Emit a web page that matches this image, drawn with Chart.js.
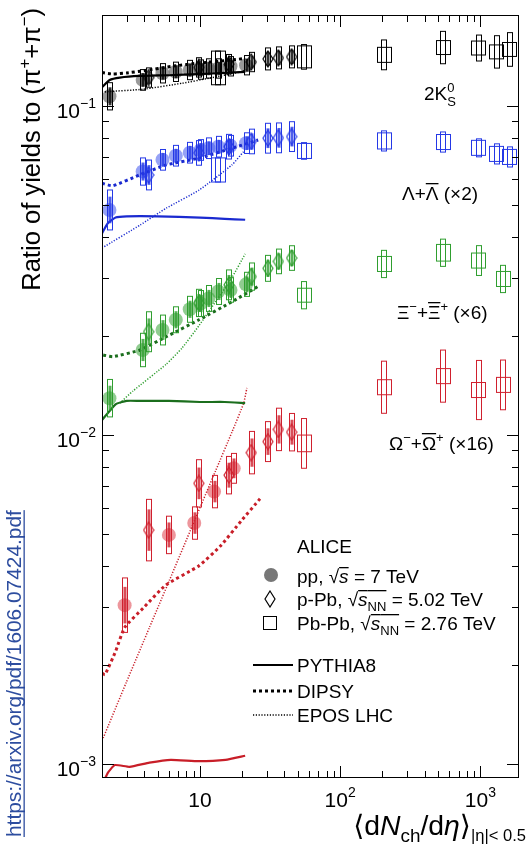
<!DOCTYPE html>
<html>
<head>
<meta charset="utf-8">
<script src="https://cdn.jsdelivr.net/npm/chart.js@4.4.0/dist/chart.umd.min.js"></script>
<style>
  body { margin: 0; background: #fff; }
  canvas { display: block; }
</style>
</head>
<body>
<canvas id="c" width="528" height="848"></canvas>
<script>
// axis ranges
const xMin = 2.0, xMax = 1886;
const yMin = 0.000907, yMax = 0.189;
const xTickValues = [10, 100, 1000];
const xTickExp = ['', '2', '3'];
const yTickValues = [0.1, 0.01, 0.001];
const yTickExp = ['\u22121', '\u22122', '\u22123'];

// <dNch/deta> of the event classes
const multPP = [2.26, 3.9, 5.4, 6.72, 8.45, 10.1, 11.5, 13.5, 16.5, 21.3];
const multPPOmega = [2.9, 6.0, 9.1, 12.6, 17.4];
const multPPb = [4.3, 9.8, 16.1, 23.2, 30.5, 36.2, 45];
const multPbPb = [13.4, 55, 205, 537, 966, 1294, 1601];
const multPbPbMS = [55, 205, 537, 966, 1448];

// 2K0S / (pi+ + pi-)
const k0sPP = [0.107, 0.120, 0.1257, 0.127, 0.1286, 0.129, 0.130, 0.130, 0.132, 0.133];
const k0sPPSys = [0.10, 0.075, 0.07, 0.07, 0.07, 0.07, 0.07, 0.07, 0.07, 0.07];
const k0sPPb = [0.122, 0.131, 0.134, 0.136, 0.139, 0.140, 0.141];
const k0sPPbSys = [0.07, 0.07, 0.07, 0.07, 0.08, 0.08, 0.08];
const k0sPbPb = [0.1305, 0.141, 0.143, 0.1505, 0.150, 0.146, 0.1485];
const k0sPbPbSys = [0.125, 0.09, 0.11, 0.12, 0.095, 0.12, 0.125];
const k0sPbPbUnc = [0.125, 0.08, 0.054, 0.05, 0.05, 0.05, 0.05];

// Lambda (x2)
const lamPP = [0.0483, 0.0632, 0.0686, 0.0706, 0.0721, 0.0735, 0.0744, 0.0752, 0.0757, 0.0771];
const lamPPSys = [0.15, 0.10, 0.075, 0.075, 0.075, 0.075, 0.075, 0.075, 0.075, 0.075];
const lamPPb = [0.0617, 0.072, 0.0752, 0.078, 0.0798, 0.080, 0.0807];
const lamPPbSys = [0.11, 0.09, 0.09, 0.09, 0.11, 0.11, 0.11];
const lamPbPb = [0.0639, 0.0730, 0.0783, 0.0777, 0.0746, 0.0715, 0.070];
const lamPbPbSys = [0.088, 0.06, 0.073, 0.073, 0.065, 0.073, 0.073];
const lamPbPbUnc = [0.088, 0.054, 0.058, 0.054, 0.054, 0.054, 0.054];

// Xi (x6)
const xiPP = [0.01294, 0.01813, 0.02085, 0.0224, 0.0241, 0.0251, 0.0260, 0.0273, 0.0276, 0.0287];
const xiPPSys = [0.14, 0.124, 0.11, 0.095, 0.095, 0.095, 0.095, 0.095, 0.09, 0.088];
const xiPPb = [0.0206, 0.0252, 0.0286, 0.0303, 0.0321, 0.0337, 0.0345];
const xiPPbSys = [0.15, 0.10, 0.11, 0.10, 0.095, 0.09, 0.09];
const xiPbPb = [0.0266, 0.0331, 0.0358, 0.0339, 0.0298];
const xiPbPbSys = [0.10, 0.10, 0.10, 0.11, 0.10];
const xiPbPbUnc = [0.05, 0.054, 0.06, 0.054, 0.054];

// Omega (x16)
const omPP = [0.00304, 0.00497, 0.0054, 0.00673, 0.00792];
const omPPSys = [0.21, 0.14, 0.12, 0.12, 0.11];
const omPPb = [0.00514, 0.00713, 0.00755, 0.00884, 0.00955, 0.0104, 0.0102];
const omPPbSys = [0.24, 0.18, 0.14, 0.16, 0.15, 0.16, 0.14];
const omPbPb = [0.00943, 0.01397, 0.0151, 0.0137, 0.0142];
const omPbPbSys = [0.19, 0.20, 0.20, 0.23, 0.19];
const omPbPbUnc = [0.06, 0.054, 0.054, 0.054, 0.054];

// model curves
const pythiaK0X = [2.0, 2.27, 2.68, 3.7, 6, 9.8, 15, 21];
const pythiaK0Y = [0.114, 0.120, 0.122, 0.1234, 0.124, 0.125, 0.126, 0.127];
const dipsyK0X = [2.0, 2.4, 3.0, 4.0, 6.3, 9.8, 16.9, 21];
const dipsyK0Y = [0.1263, 0.125, 0.126, 0.128, 0.132, 0.135, 0.138, 0.1395];
const eposK0X = [2.0, 2.16, 3.91, 7.5, 11.6, 19.9, 21.5];
const eposK0Y = [0.110, 0.1105, 0.1124, 0.1173, 0.1214, 0.1272, 0.129];

const pythiaLamX = [2.0, 2.2, 2.5, 3.0, 5, 10, 15, 21];
const pythiaLamY = [0.041, 0.044, 0.0458, 0.0462, 0.0462, 0.0458, 0.0454, 0.0451];
const dipsyLamX = [2.0, 2.39, 3.7, 5.75, 9.84, 16.9, 26];
const dipsyLamY = [0.0582, 0.0572, 0.0617, 0.0662, 0.0694, 0.0744, 0.0788];
const eposLamX = [2.0, 3.75, 5.75, 9.84, 16.9, 20.5];
const eposLamY = [0.037, 0.0435, 0.0489, 0.0555, 0.0662, 0.0727];

const pythiaXiX = [2.0, 2.5, 3.0, 3.7, 6, 10, 15, 21];
const pythiaXiY = [0.0111, 0.0124, 0.0127, 0.0127, 0.0127, 0.0126, 0.0126, 0.0125];
const dipsyXiX = [2.04, 2.39, 3.7, 5.75, 9.84, 16.9, 26];
const dipsyXiY = [0.0175, 0.0173, 0.0181, 0.0199, 0.0224, 0.0254, 0.0283];
const eposXiX = [2.68, 3.32, 5.73, 7.46, 9.84, 12.9, 16.9, 21];
const eposXiY = [0.0125, 0.0136, 0.0164, 0.0184, 0.0215, 0.0254, 0.0301, 0.0355];

const pythiaOmX = [2.0, 2.2, 2.47, 3.15, 4.36, 6.2, 9.8, 15.2, 21];
const pythiaOmY = [0.00086, 0.00094, 0.000993, 0.000981, 0.00101, 0.00103, 0.00102, 0.00103, 0.00106];
const dipsyOmX = [2.0, 2.1, 2.5, 2.9, 4, 5.7, 9.8, 14, 19.8, 26.8];
const dipsyOmY = [0.00189, 0.00187, 0.0022, 0.0026, 0.0030, 0.0035, 0.0040, 0.0046, 0.0055, 0.0064];
const eposOmX = [2.04, 2.98, 4.36, 6.04, 8.82, 12.9, 16.9, 20.5, 21.6];
const eposOmY = [0.0012, 0.00177, 0.0026, 0.00361, 0.0053, 0.00777, 0.0102, 0.0125, 0.0139];

const FAM = '"Liberation Sans", Arial, "DejaVu Sans", sans-serif';

function pts(xs, ys) {
  return xs.map((x, i) => ({ x: x, y: ys[i] }));
}

function diamond(color, w, h) {
  const c = document.createElement('canvas');
  c.width = w; c.height = h;
  const g = c.getContext('2d');
  g.strokeStyle = color;
  g.lineWidth = 1.2;
  g.beginPath();
  g.moveTo(w / 2, 1); g.lineTo(w - 1, h / 2); g.lineTo(w / 2, h - 1); g.lineTo(1, h / 2);
  g.closePath();
  g.stroke();
  return c;
}

function curve(xs, ys, color, kind) {
  const st = {
    pythia: { w: 2.2, dash: [] },
    dipsy: { w: 3, dash: [3, 3] },
    epos: { w: 1.5, dash: [1.2, 1.6] }
  }[kind];
  return {
    data: pts(xs, ys), showLine: true, borderColor: color, borderWidth: st.w,
    borderDash: st.dash, pointRadius: 0, pointHoverRadius: 0, tension: 0.15
  };
}

function ppSet(xs, ys, sys, fill, color) {
  return {
    data: pts(xs, ys), pointRadius: 7, pointHoverRadius: 7, backgroundColor: fill,
    borderWidth: 0, boxes: [{ err: sys, w: 5, color: color, inner: true }]
  };
}

function pPbSet(xs, ys, sys, color) {
  return {
    data: pts(xs, ys), pointStyle: diamond(color, 12, 18), pointRadius: 8,
    pointHoverRadius: 8, boxes: [{ err: sys, w: 5, color: color, inner: true }]
  };
}

function pbSet(xs, ys, sys, unc, color) {
  return {
    data: pts(xs, ys), pointRadius: 0, pointHoverRadius: 0,
    boxes: [{ err: sys, w: 5, color: color }, { err: unc, w: 14, color: color }]
  };
}

const col = {
  k0: '#000000', lam: '#2438e6', xi: '#2f9e2f', om: '#d0202e',
  k0Line: '#000000', lamLine: '#1a2ad0', xiLine: '#1b6e1d', om2Line: '#c81e28'
};

const datasets = [
  curve(pythiaK0X, pythiaK0Y, col.k0Line, 'pythia'),
  curve(dipsyK0X, dipsyK0Y, col.k0Line, 'dipsy'),
  curve(eposK0X, eposK0Y, col.k0Line, 'epos'),
  curve(pythiaLamX, pythiaLamY, col.lamLine, 'pythia'),
  curve(dipsyLamX, dipsyLamY, col.lamLine, 'dipsy'),
  curve(eposLamX, eposLamY, col.lamLine, 'epos'),
  curve(pythiaXiX, pythiaXiY, col.xiLine, 'pythia'),
  curve(dipsyXiX, dipsyXiY, col.xiLine, 'dipsy'),
  curve(eposXiX, eposXiY, col.xi, 'epos'),
  curve(pythiaOmX, pythiaOmY, col.om2Line, 'pythia'),
  curve(dipsyOmX, dipsyOmY, col.om2Line, 'dipsy'),
  curve(eposOmX, eposOmY, col.om2Line, 'epos'),

  pPbSet(multPPb, k0sPPb, k0sPPbSys, col.k0),
  pbSet(multPbPb, k0sPbPb, k0sPbPbSys, k0sPbPbUnc, col.k0),
  ppSet(multPP, k0sPP, k0sPPSys, 'rgba(70,70,70,0.55)', col.k0),

  pPbSet(multPPb, lamPPb, lamPPbSys, col.lam),
  pbSet(multPbPb, lamPbPb, lamPbPbSys, lamPbPbUnc, col.lam),
  ppSet(multPP, lamPP, lamPPSys, 'rgba(80,100,240,0.6)', col.lam),

  pPbSet(multPPb, xiPPb, xiPPbSys, col.xi),
  pbSet(multPbPbMS, xiPbPb, xiPbPbSys, xiPbPbUnc, col.xi),
  ppSet(multPP, xiPP, xiPPSys, 'rgba(70,170,70,0.6)', col.xi),

  pPbSet(multPPb, omPPb, omPPbSys, col.om),
  pbSet(multPbPbMS, omPbPb, omPbPbSys, omPbPbUnc, col.om),
  ppSet(multPPOmega, omPP, omPPSys, 'rgba(225,80,90,0.6)', col.om)
];

function fnt(p) {
  return (p.it ? 'italic ' : '') + p.s + 'px ' + FAM;
}

function rich(ctx, parts, x, y, align) {
  let w = 0;
  parts.forEach(p => {
    ctx.font = fnt(p);
    p.w = ctx.measureText(p.t).width;
    if (!p.stack) w += p.w;
  });
  let cx = align === 'right' ? x - w : align === 'center' ? x - w / 2 : x;
  let prev = cx;
  parts.forEach(p => {
    ctx.font = fnt(p);
    const px = p.stack ? prev : cx;
    ctx.fillText(p.t, px, y + (p.dy || 0));
    if (p.bar) ctx.fillRect(px, y - p.bar, p.w, 1.3);
    if (!p.stack) { prev = cx; cx += p.w; }
  });
  return w;
}

function scaled(parts, k) {
  return parts.map(p => Object.assign({}, p, { s: p.s * k }));
}

const boxPlugin = {
  id: 'boxes',
  afterDatasetsDraw(chart) {
    const ctx = chart.ctx, ys = chart.scales.y, a = chart.chartArea;
    ctx.save();
    ctx.beginPath();
    ctx.rect(a.left, a.top, a.right - a.left, a.bottom - a.top);
    ctx.clip();
    chart.data.datasets.forEach((ds, i) => {
      if (!ds.boxes) return;
      const meta = chart.getDatasetMeta(i);
      meta.data.forEach((pt, j) => {
        const v = ds.data[j].y;
        ds.boxes.forEach(b => {
          const e = b.err[j];
          const top = ys.getPixelForValue(v * (1 + e));
          const bot = ys.getPixelForValue(v / (1 + e));
          const x0 = Math.round(pt.x - b.w / 2) + 0.5;
          ctx.strokeStyle = b.color;
          ctx.lineWidth = 1;
          ctx.strokeRect(x0, top, b.w, bot - top);
          if (b.inner) {
            const it = ys.getPixelForValue(v * (1 + e * 0.65));
            const ib = ys.getPixelForValue(v / (1 + e * 0.65));
            ctx.fillStyle = b.color;
            ctx.globalAlpha = 0.8;
            ctx.fillRect(x0 + 1, it, b.w - 2, ib - it);
            ctx.globalAlpha = 1;
          }
        });
      });
    });
    ctx.restore();
  }
};

const decorPlugin = {
  id: 'decor',
  afterDraw(chart) {
    const ctx = chart.ctx, a = chart.chartArea, xs = chart.scales.x, ys = chart.scales.y;
    ctx.save();
    ctx.strokeStyle = '#000';
    ctx.fillStyle = '#000';
    ctx.lineWidth = 1;
    ctx.strokeRect(a.left + 0.5, a.top + 0.5, a.right - a.left - 1, a.bottom - a.top - 1);

    // ticks
    ctx.beginPath();
    [1, 10, 100, 1000].forEach(d => {
      for (let m = 1; m <= 9; m++) {
        const v = m * d;
        if (v < xMin || v > xMax) continue;
        const px = Math.round(xs.getPixelForValue(v)) + 0.5;
        const len = m === 1 ? 12 : 7;
        ctx.moveTo(px, a.bottom); ctx.lineTo(px, a.bottom - len);
        ctx.moveTo(px, a.top); ctx.lineTo(px, a.top + len);
      }
    });
    [0.0001, 0.001, 0.01, 0.1].forEach(d => {
      for (let m = 1; m <= 9; m++) {
        const v = m * d;
        if (v < yMin || v > yMax) continue;
        const py = Math.round(ys.getPixelForValue(v)) + 0.5;
        const len = m === 1 ? 12 : 7;
        ctx.moveTo(a.left, py); ctx.lineTo(a.left + len, py);
        ctx.moveTo(a.right, py); ctx.lineTo(a.right - len, py);
      }
    });
    ctx.stroke();

    // tick labels
    xTickValues.forEach((v, i) => {
      const parts = [{ t: '10', s: 21 }];
      if (xTickExp[i]) parts.push({ t: xTickExp[i], s: 14, dy: -10 });
      rich(ctx, parts, xs.getPixelForValue(v), 807, 'center');
    });
    yTickValues.forEach((v, i) => {
      rich(ctx, [{ t: '10', s: 21 }, { t: yTickExp[i], s: 14, dy: -10 }], 96, ys.getPixelForValue(v) + 12, 'right');
    });

    // x title
    let xt = [
      { t: '\u27E8d', s: 24 }, { t: 'N', s: 24, it: true }, { t: 'ch', s: 16, dy: 7 },
      { t: '/d', s: 24 }, { t: '\u03B7', s: 24, it: true }, { t: '\u27E9', s: 24 },
      { t: '|\u03B7|< 0.5', s: 14, dy: 6 }
    ];
    const xw = rich(ctx, xt.map(p => Object.assign({}, p)), -1000, -1000, 'left');
    xt = scaled(xt, 173 / xw);
    rich(ctx, xt, 526, 835, 'right');

    // y title
    let yt = [
      { t: 'Ratio of yields to (\u03C0', s: 26 }, { t: '+', s: 17, dy: -10 },
      { t: '+\u03C0', s: 26 }, { t: '\u2212', s: 17, dy: -10 }, { t: ')', s: 26 }
    ];
    const yw = rich(ctx, yt.map(p => Object.assign({}, p)), -1000, -1000, 'left');
    yt = scaled(yt, 283 / yw);
    ctx.save();
    ctx.translate(40, 8);
    ctx.rotate(-Math.PI / 2);
    rich(ctx, yt, 0, 0, 'right');
    ctx.restore();

    // species labels
    rich(ctx, [{ t: '2K', s: 19 }, { t: '0', s: 13, dy: -8 }, { t: 'S', s: 13, dy: 6, stack: true }], 424, 100, 'left');
    rich(ctx, [{ t: '\u039B+', s: 19 }, { t: '\u039B', s: 19, bar: 17 }, { t: ' (\u00D72)', s: 19 }], 402, 200, 'left');
    rich(ctx, [{ t: '\u039E', s: 19 }, { t: '\u2212', s: 13, dy: -8 }, { t: '+', s: 19 }, { t: '\u039E', s: 19, bar: 17 },
      { t: '+', s: 13, dy: -8 }, { t: ' (\u00D76)', s: 19 }], 397, 319, 'left');
    rich(ctx, [{ t: '\u03A9', s: 19 }, { t: '\u2212', s: 13, dy: -8 }, { t: '+', s: 19 }, { t: '\u03A9', s: 19, bar: 17 },
      { t: '+', s: 13, dy: -8 }, { t: ' (\u00D716)', s: 19 }], 389, 450, 'left');

    // legend
    const lx = 297;
    rich(ctx, [{ t: 'ALICE', s: 19 }], lx, 553, 'left');
    ctx.fillStyle = '#777';
    ctx.beginPath(); ctx.arc(271, 575, 7, 0, 2 * Math.PI); ctx.fill();
    ctx.fillStyle = '#000';
    rich(ctx, [{ t: 'pp, \u221A', s: 19 }, { t: 's', s: 19, it: true, bar: 16 }, { t: ' = 7 TeV', s: 19 }], lx, 583, 'left');
    ctx.drawImage(diamond('#000', 12, 18), 264, 590);
    rich(ctx, [{ t: 'p-Pb, \u221A', s: 19 }, { t: 's', s: 19, it: true, bar: 16 }, { t: 'NN', s: 13, dy: 5, bar: 16 },
      { t: ' = 5.02 TeV', s: 19 }], lx, 606, 'left');
    ctx.strokeRect(263.5, 616.5, 13, 13);
    rich(ctx, [{ t: 'Pb-Pb, \u221A', s: 19 }, { t: 's', s: 19, it: true, bar: 16 }, { t: 'NN', s: 13, dy: 5, bar: 16 },
      { t: ' = 2.76 TeV', s: 19 }], lx, 630, 'left');

    const leg = [
      { y: 665, w: 2.2, dash: [], t: 'PYTHIA8' },
      { y: 691, w: 3, dash: [3, 3], t: 'DIPSY' },
      { y: 715, w: 1.5, dash: [1.2, 1.6], t: 'EPOS LHC' }
    ];
    leg.forEach(l => {
      ctx.save();
      ctx.lineWidth = l.w;
      ctx.setLineDash(l.dash);
      ctx.beginPath(); ctx.moveTo(253, l.y); ctx.lineTo(293, l.y); ctx.stroke();
      ctx.restore();
      rich(ctx, [{ t: l.t, s: 19 }], lx, l.y + 7, 'left');
    });

    // arXiv link
    const link = 'https://arxiv.org/pdf/1606.07424.pdf';
    ctx.save();
    ctx.translate(21, 837);
    ctx.rotate(-Math.PI / 2);
    ctx.font = '17px ' + FAM;
    const lw0 = ctx.measureText(link).width;
    const fs = 17 * 327 / lw0;
    ctx.font = fs + 'px ' + FAM;
    ctx.fillStyle = '#2d4d9f';
    ctx.fillText(link, 0, 0);
    ctx.fillRect(0, 2.5, ctx.measureText(link).width, 1.3);
    ctx.restore();

    ctx.restore();
  }
};

new Chart(document.getElementById('c'), {
  type: 'scatter',
  data: { datasets: datasets },
  options: {
    responsive: false,
    animation: false,
    devicePixelRatio: 1,
    layout: { padding: { left: 102, right: 5, top: 15, bottom: 70 } },
    scales: {
      x: { type: 'logarithmic', min: xMin, max: xMax, display: false },
      y: { type: 'logarithmic', min: yMin, max: yMax, display: false }
    },
    plugins: { legend: { display: false }, tooltip: { enabled: false } }
  },
  plugins: [boxPlugin, decorPlugin]
});
</script>
</body>
</html>
